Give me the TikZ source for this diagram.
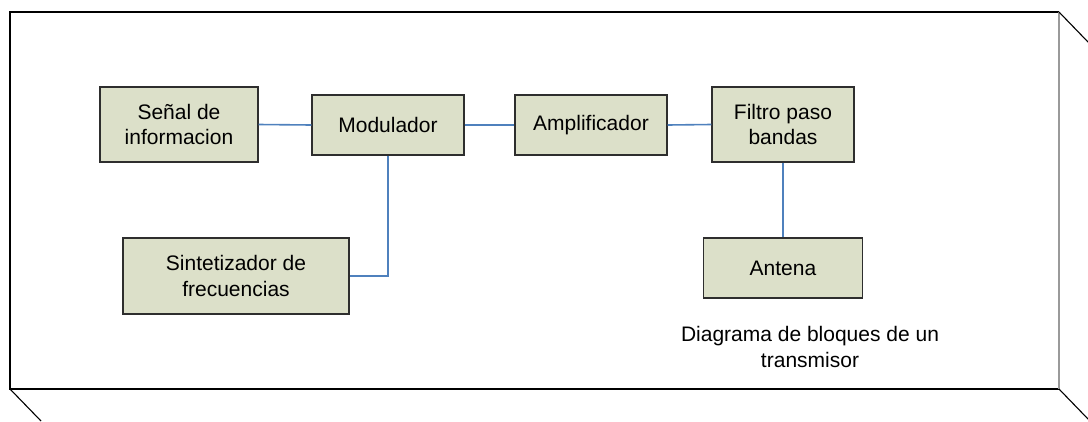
\documentclass[tikz,border=0pt]{standalone}
\usepackage{fontspec}
\setmainfont{Liberation Sans}
\definecolor{boxfill}{HTML}{DCE0C9}
\definecolor{boxline}{HTML}{2E2E2E}
\definecolor{wire}{HTML}{4F81BD}
\definecolor{edgegrey}{HTML}{9A9A9A}
\tikzset{
  block/.style={draw=boxline, line width=1.2pt, fill=boxfill, inner sep=0pt,
    align=center, font=\fontsize{21}{25.5}\selectfont},
  wireline/.style={draw=wire, line width=1.6pt},
  frameline/.style={draw=black, line width=1.1pt}
}
\begin{document}
\begin{tikzpicture}[x=1pt, y=-1pt]
\useasboundingbox (0,0) rectangle (1088,421);
% outer panel with its corner edges
\coordinate (tl) at (10,12);
\coordinate (tr) at (1059,12);
\coordinate (bl) at (10,389);
\coordinate (br) at (1059,389);
\draw[frameline] (tr) -- (tl) -- (bl) -- (br);
\draw[draw=edgegrey, line width=1.1pt] (tr) -- (br);
\draw[frameline] (tr) -- (1088,42);
\draw[frameline] (bl) -- (41,421);
\draw[frameline] (br) -- (1088,419);

% blocks
\node[block, minimum width=158pt, minimum height=75pt] (senal) at (179,124.5) {Señal de\\informacion};
\node[block, minimum width=152pt, minimum height=60pt] (mod) at (388,125) {Modulador};
\node[block, minimum width=152pt, minimum height=60pt] (amp) at (591,125) {Amplificador};
\node[block, minimum width=142pt, minimum height=75pt] (filt) at (783,124.5) {Filtro paso\\bandas};
\node[block, minimum width=226pt, minimum height=76pt] (sint) at (236,276) {Sintetizador de\\frecuencias};
\node[block, minimum width=159pt, minimum height=60pt] (ant) at (783,268) {Antena};

% caption
\node[align=center, font=\fontsize{21}{25.5}\selectfont] (cap) at (810,347) {Diagrama de bloques de un\\transmisor};

% connections
\draw[wireline] (senal.east) -- (mod.west);
\draw[wireline] (mod.east) -- (amp.west);
\draw[wireline] (amp.east) -- (filt.west);
\draw[wireline] (mod.south) |- (sint.east);
\draw[wireline] (filt.south) -- (ant.north);
\end{tikzpicture}
\end{document}
